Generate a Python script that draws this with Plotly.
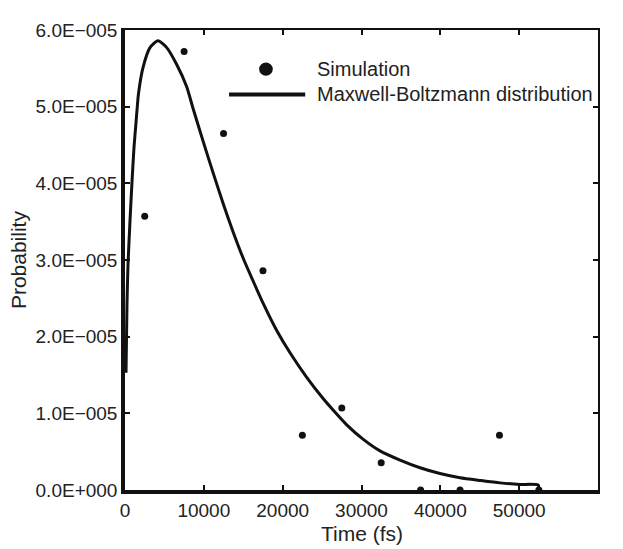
import plotly.graph_objects as go

# Simulation data (time in fs, probability)
sim_time = [2500, 7500, 12500, 17500, 22500, 27500, 32500, 37500, 42500, 47500, 52500]
sim_prob = [3.57e-5, 5.72e-5, 4.65e-5, 2.86e-5, 0.715e-5, 1.07e-5, 0.357e-5, 0.0, 0.0, 0.715e-5, 0.0]

# Maxwell-Boltzmann curve
mb_time = [127, 254, 381, 634, 888, 1142, 1395, 1713, 2283, 3171, 4186, 5290, 6558, 7827,
           8626, 9933, 11200, 12470, 13738, 15007, 16276, 17544, 19244, 20931, 23050, 25156,
           26424, 28124, 30230, 32348, 34885, 37422, 39959, 42497, 45034, 47571, 50108,
           52430, 52430]
mb_prob = [1.53e-5, 2.43e-5, 2.94e-5, 3.51e-5, 4.02e-5, 4.47e-5, 4.79e-5, 5.17e-5, 5.51e-5,
           5.77e-5, 5.86e-5, 5.77e-5, 5.55e-5, 5.26e-5, 4.98e-5, 4.54e-5, 4.13e-5, 3.73e-5,
           3.36e-5, 3.02e-5, 2.72e-5, 2.43e-5, 2.08e-5, 1.79e-5, 1.47e-5, 1.19e-5, 1.04e-5,
           0.85e-5, 0.66e-5, 0.51e-5, 0.39e-5, 0.29e-5, 0.215e-5, 0.16e-5, 0.125e-5, 0.093e-5,
           0.073e-5, 0.064e-5, 0.0]

x_ticks = [0, 10000, 20000, 30000, 40000, 50000, 60000]
x_tick_text = ["0", "10000", "20000", "30000", "40000", "50000", "60000"]
y_ticks = [0, 1e-5, 2e-5, 3e-5, 4e-5, 5e-5, 6e-5]
y_tick_text = ["0.0E+000", "1.0E\u2212005", "2.0E\u2212005", "3.0E\u2212005",
               "4.0E\u2212005", "5.0E\u2212005", "6.0E\u2212005"]

legend_labels = ["Simulation", "Maxwell-Boltzmann distribution"]

FONT = "Liberation Sans, Arial, Helvetica, sans-serif"
INK = "#111111"
TXT = "#222222"

fig = go.Figure()
fig.add_trace(go.Scatter(x=mb_time, y=mb_prob, mode="lines",
                         line=dict(color=INK, width=3, shape="spline", smoothing=0.6),
                         cliponaxis=False, showlegend=False, name=legend_labels[1]))
fig.add_trace(go.Scatter(x=sim_time, y=sim_prob, mode="markers",
                         marker=dict(color=INK, size=7), cliponaxis=False,
                         showlegend=False, name=legend_labels[0]))
# invisible trace to anchor the top/right frame axes
fig.add_trace(go.Scatter(x=[0], y=[0], xaxis="x2", yaxis="y2", mode="markers",
                         marker=dict(opacity=0), showlegend=False, hoverinfo="skip"))

main_axis = dict(showgrid=False, zeroline=False, showline=True, linecolor=INK,
                 linewidth=3.5, mirror=False, ticks="inside", ticklen=5,
                 tickwidth=2, tickcolor=INK,
                 tickfont=dict(family=FONT, size=19, color=TXT))
frame_axis = dict(showgrid=False, zeroline=False, showline=True, linecolor=INK,
                  linewidth=2, ticks="inside", ticklen=5, tickwidth=2, tickcolor=INK,
                  showticklabels=False)

fig.update_layout(
    xaxis=dict(range=[0, 60000], tickvals=x_ticks, ticktext=x_tick_text, **main_axis),
    yaxis=dict(range=[0, 6e-5], tickvals=y_ticks, ticktext=y_tick_text, **main_axis),
    xaxis2=dict(range=[0, 60000], tickvals=x_ticks, overlaying="x", side="top",
                anchor="y", **frame_axis),
    yaxis2=dict(range=[0, 6e-5], tickvals=y_ticks, overlaying="y", side="right",
                anchor="x", **frame_axis),
)

# Manual legend
fig.add_shape(type="circle", xref="paper", yref="paper",
              x0=0.298 - 0.0145, x1=0.298 + 0.0145, y0=0.915 - 0.0145, y1=0.915 + 0.0145,
              fillcolor=INK, line=dict(color=INK, width=0))
fig.add_shape(type="line", xref="paper", yref="paper", x0=0.220, x1=0.381, y0=0.860, y1=0.860,
              line=dict(color=INK, width=4))
fig.add_annotation(xref="paper", yref="paper", x=0.402, y=0.915, xanchor="left", yanchor="middle",
                   text=legend_labels[0], showarrow=False,
                   font=dict(family=FONT, size=20, color=TXT))
fig.add_annotation(xref="paper", yref="paper", x=0.402, y=0.860, xanchor="left", yanchor="middle",
                   text=legend_labels[1], showarrow=False,
                   font=dict(family=FONT, size=20, color=TXT))

# Axis titles
fig.add_annotation(xref="paper", yref="paper", x=0.5, y=-0.095, xanchor="center", yanchor="middle",
                   text="Time (fs)", showarrow=False,
                   font=dict(family=FONT, size=21, color=TXT))
fig.add_annotation(xref="paper", yref="paper", x=-0.226, y=0.5, xanchor="center", yanchor="middle",
                   text="Probability", showarrow=False, textangle=-90,
                   font=dict(family=FONT, size=21, color=TXT))

# The page adds an 8px body margin, so the figure is 8px smaller and margins offset
fig.update_layout(width=615, height=541, autosize=False,
                  margin=dict(l=117, r=25, t=12, b=59),
                  paper_bgcolor="white", plot_bgcolor="white",
                  font=dict(family=FONT, color=TXT))

fig.write_html("out.html")
